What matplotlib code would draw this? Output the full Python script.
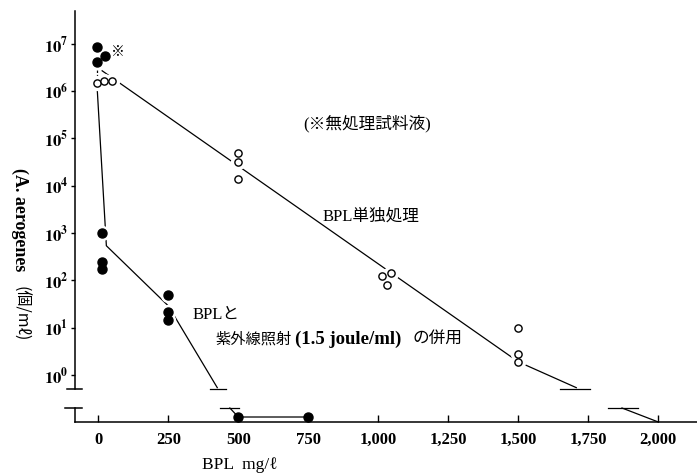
import numpy as np
import matplotlib
matplotlib.use("Agg")
import matplotlib.pyplot as plt
import matplotlib.transforms as mtransforms

plt.rcParams["font.family"] = ["Liberation Serif", "Noto Sans CJK JP", "DejaVu Sans"]
plt.rcParams["mathtext.fontset"] = "stix"

# BPL alone (open circles)
alone_x = [-5, 20, 50, 500, 500, 500, 1015, 1045, 1030, 1500, 1500, 1500]
alone_y = [1.5e6, 1.65e6, 1.65e6, 4.9e4, 3.2e4, 1.4e4, 125, 140, 78, 10, 2.8, 1.9]

# BPL + UV (filled circles)
comb_x = [-5, -5, 25, 15, 15, 15, 250, 250, 250]
comb_y = [8.5e6, 4.2e6, 5.5e6, 1000, 245, 175, 49, 21, 14.5]

# filled points at zero (lower panel)
zero_x = [500, 750]
zero_y = [0, 0]

# fitted lines
fit_alone_x = [14, 1500, 1707]
fit_alone_y = [2.7e6, 1.9, 0.54]
fit_comb_x = [-4, 29, 250, 425]
fit_comb_y = [1.2e6, 540, 29, 0.54]
low_comb_x = [470, 500, 750]
low_comb_y = [1.8, 0, 0]
low_alone_x = [1870, 2000]
low_alone_y = [1.8, -1]

xticks = [0, 250, 500, 750, 1000, 1250, 1500, 1750, 2000]
xticklabels = ["0", "250", "500", "750", "1,000", "1,250", "1,500", "1,750", "2,000"]
ydecades = [0, 1, 2, 3, 4, 5, 6, 7]

fig = plt.figure(figsize=(6.97, 4.73), dpi=100)
ax = fig.add_axes([0.1076, 0.1776, 0.8924, 0.7991])
axl = fig.add_axes([0.1076, 0.1078, 0.8924, 0.0360], sharex=ax)

ymin, ymax = 10 ** -0.296, 10 ** 7.695
lw = 0.9

# upper panel
ax.set_yscale("log")
ax.set_ylim(ymin, ymax)
ax.set_xlim(-83, 2138)
for s in ["top", "right", "bottom"]:
    ax.spines[s].set_visible(False)
ax.spines["left"].set_linewidth(1.1)
ax.set_yticks([10.0 ** d for d in ydecades])
ax.set_yticklabels([r"$\mathbf{10^{%d}}$" % d for d in ydecades], fontsize=12)
ax.yaxis.set_minor_locator(matplotlib.ticker.NullLocator())
ax.tick_params(axis="y", direction="out", length=3, width=1, pad=2)
ax.tick_params(axis="x", bottom=False, labelbottom=False)

ax.plot(fit_alone_x, fit_alone_y, color="black", lw=lw, zorder=2)
ax.plot(fit_comb_x, fit_comb_y, color="black", lw=lw, zorder=2)
ax.plot([-6, -6], [10 ** 6.45, 10 ** 6.3], color="black", lw=lw, ls=(0, (2, 1.5)), zorder=2)

# white halos so lines break around markers
ax.plot(alone_x, alone_y, ls="none", marker="o", ms=10, mfc="white", mec="white", zorder=3)
ax.plot(comb_x, comb_y, ls="none", marker="o", ms=10, mfc="white", mec="white", zorder=3)
ax.plot(alone_x, alone_y, ls="none", marker="o", ms=5.2, mfc="white", mec="black", mew=1.0, zorder=4)
ax.plot(comb_x, comb_y, ls="none", marker="o", ms=6.5, mfc="black", mec="black", zorder=4)

# break marks at the bottom of the upper panel
ax.plot([400, 455], [ymin, ymin], color="black", lw=lw, clip_on=False)
ax.plot([1650, 1757], [ymin, ymin], color="black", lw=lw, clip_on=False)
tr = mtransforms.blended_transform_factory(ax.transAxes, ax.transData)
ax.plot([-0.013, 0.011], [ymin, ymin], color="black", lw=1.1, transform=tr, clip_on=False)

ax.text(45, 6.6e6, "※", fontsize=10, ha="left", va="center", family=["Noto Sans CJK JP"])
ax.text(960, 10 ** 5.31, "(※無処理試料液)", fontsize=12, ha="center", va="center")
ax.text(975, 10 ** 3.34, "BPL単独処理", fontsize=12, ha="center", va="center")
ax.text(335, 10 ** 1.27, "BPLと", fontsize=12, ha="left", va="center")
ax.text(417, 10 ** 0.76, "紫外線照射", fontsize=11, ha="left", va="center")
ax.text(893, 10 ** 0.76, "(1.5 joule/ml)", fontsize=13.5, fontweight="bold", ha="center", va="center")
ax.text(1299, 10 ** 0.76, "の併用", fontsize=12, ha="right", va="center")

# lower panel (zero counts)
axl.set_ylim(-1, 2.4)
for s in ["top", "right"]:
    axl.spines[s].set_visible(False)
axl.spines["left"].set_bounds(-1, 1.8)
axl.spines["left"].set_linewidth(1.1)
axl.spines["bottom"].set_linewidth(1.1)
axl.set_yticks([])
axl.set_xticks(xticks)
axl.set_xticklabels(xticklabels, fontsize=12, fontweight="bold")
axl.tick_params(axis="x", direction="in", length=5, width=1, pad=7)

axl.plot(low_comb_x, low_comb_y, color="black", lw=lw, zorder=2)
axl.plot(low_alone_x, low_alone_y, color="black", lw=lw, zorder=2, clip_on=False)
axl.plot(zero_x, zero_y, ls="none", marker="o", ms=6.5, mfc="black", mec="black", zorder=4, clip_on=False)
axl.plot([435, 502], [1.8, 1.8], color="black", lw=lw, clip_on=False)
axl.plot([1821, 1929], [1.8, 1.8], color="black", lw=lw, clip_on=False)
trl = mtransforms.blended_transform_factory(axl.transAxes, axl.transData)
axl.plot([-0.016, 0.011], [1.8, 1.8], color="black", lw=1.1, transform=trl, clip_on=False)

fig.text(240 / 697, 1 - 465 / 473, "BPL  mg/ℓ", fontsize=12.5, ha="center", va="center")
fig.text(20 / 697, 1 - 220 / 473, "(A. aerogenes", fontsize=13, fontweight="bold",
         rotation=-90, ha="center", va="center")
fig.text(20 / 697, 1 - 314 / 473, "(個/mℓ)", fontsize=11.5, family=["Noto Sans CJK JP"],
         rotation=-90, ha="center", va="center")

fig.savefig("out.png", dpi=100)
